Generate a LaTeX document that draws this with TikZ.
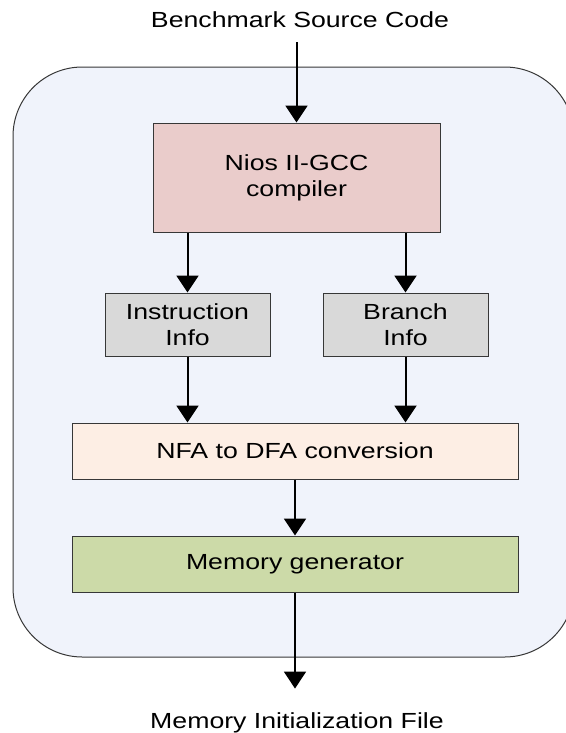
\documentclass[tikz,border=0pt]{standalone}
\usepackage{fontspec}
\setmainfont[FakeStretch=1.22]{Liberation Sans}
\usetikzlibrary{arrows.meta}

\definecolor{boxline}{RGB}{55,55,55}
\definecolor{toolbg}{RGB}{240,243,251}
\definecolor{gccpink}{RGB}{234,204,203}
\definecolor{infogray}{RGB}{217,217,217}
\definecolor{nfapeach}{RGB}{253,238,228}
\definecolor{memgreen}{RGB}{204,218,168}

\begin{document}
\begin{tikzpicture}[x=0.75pt, y=-0.75pt, font=\fontsize{16.4}{19.5}\selectfont]
    \tikzstyle{stage} = [draw=boxline, line width=0.75pt, rectangle, align=center, inner sep=0pt]
    \tikzstyle{infobox} = [stage, fill=infogray, minimum width=123.75pt, minimum height=47.25pt]
    \tikzstyle{widebox} = [stage, minimum width=334.5pt, minimum height=42pt]
    \tikzstyle{caption} = [inner sep=0pt, anchor=base]
    \tikzstyle{flow} = [-{Triangle[width=16.5pt, length=12.75pt]}, line width=1.5pt]

    \clip (0,0) rectangle (566,733);
    % tool chain frame
    \draw[boxline, fill=toolbg, line width=0.75pt, rounded corners=52pt] (13,67) rectangle (574,657);

    \node[caption] (src) at (300,27) {Benchmark Source Code};
    \node[stage, fill=gccpink, minimum width=215.25pt, minimum height=81.75pt] (gcc) at (296.5,177.5) {Nios II-GCC\\compiler};
    \node[infobox] (instr) at (187.5,324.5) {Instruction\\Info};
    \node[infobox] (branch) at (405.5,324.5) {Branch\\Info};
    \node[widebox, fill=nfapeach] (nfa) at (295,451) {NFA to DFA conversion};
    \node[widebox, fill=memgreen] (mem) at (295,564) {Memory generator};
    \node[caption] (mif) at (297,728) {Memory Initialization File};

    \draw[flow, shorten <=11pt] (src.south -| gcc) -- (gcc);
    \draw[flow] (gcc.south -| instr) -- (instr);
    \draw[flow] (gcc.south -| branch) -- (branch);
    \draw[flow] (instr) -- (instr |- nfa.north);
    \draw[flow] (branch) -- (branch |- nfa.north);
    \draw[flow] (nfa) -- (mem);
    \draw[flow, shorten >=17.5pt] (mem) -- (mem |- mif.north);
\end{tikzpicture}
\end{document}
